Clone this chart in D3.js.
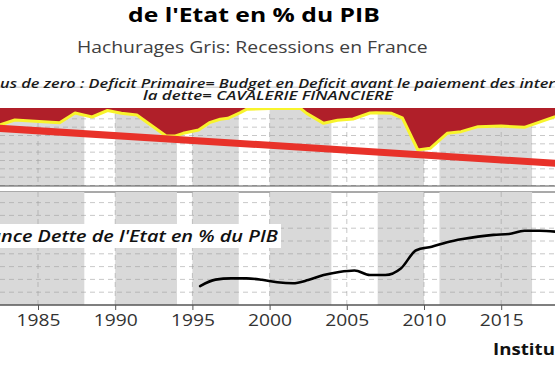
<!DOCTYPE html>
<html>
<head>
<meta charset="utf-8">
<script src="https://cdn.jsdelivr.net/npm/d3@7"></script>
<style>
  body { margin: 0; background: #fff; }
  svg { display: block; font-family: "Open Sans", sans-serif; }
</style>
</head>
<body>
<svg id="chart" width="555" height="370"></svg>
<script>
// recession periods (grey bands)
const recessionStarts = [1980, 1990, 1995, 2000, 2007, 2011];
const recessionEnds = [1988, 1994, 1998, 2004, 2010, 2017];

// primary balance of the state, % of GDP
const primaryYears = [1982.5, 1983.5, 1986.4, 1987.4, 1988.5, 1989.5, 1990.4, 1991.4, 1993.3, 1993.9,
  1994.4, 1995.4, 1996.1, 1996.8, 1997.3, 1998.1, 1998.5, 2000.0, 2002.0, 2002.4, 2003.5, 2004.4,
  2005.4, 2006.5, 2006.9, 2007.9, 2008.6, 2009.6, 2010.4, 2011.5, 2012.4, 2013.5, 2015.0, 2016.5, 2018.5];
const primaryBalance = [-1.74, -1.14, -1.46, -0.3, -0.78, 0.0, -0.34, -0.54, -3.06, -3.06,
  -2.74, -2.34, -1.46, -1.05, -0.94, -0.26, 0.14, 0.25, 0.25, -0.34, -1.54, -1.18,
  -1.02, -0.3, -0.26, -0.34, -0.9, -4.74, -4.54, -2.74, -2.54, -1.94, -1.86, -2.02, -0.74];

// trend of the primary balance
const trendYears = [1982.5, 2018.5];
const trendValues = [-2.14, -6.34];

// state debt, % of GDP
const debtYears = [1995.5, 1996.5, 1997.5, 1998.5, 1999.5, 2000.5, 2001.5, 2002.5, 2003.5, 2004.5,
  2005.5, 2006.5, 2007.5, 2008.5, 2009.5, 2010.5, 2011.5, 2012.5, 2013.5, 2014.5, 2015.5, 2016.5,
  2017.5, 2018.5];
const debtRatio = [34.8, 39.8, 40.8, 40.8, 39.7, 37.8, 37.0, 39.5, 43.4, 45.8,
  47.0, 43.4, 43.4, 48.5, 62.8, 65.5, 69.0, 71.5, 73.4, 74.8, 75.5, 78.0,
  78.0, 77.3];

const tickYears = [1985, 1990, 1995, 2000, 2005, 2010, 2015];
const topGrid = [-1, -2, -3, -4, -5, -6, -7, -8, -9];
const bottomGrid = [30, 40, 50, 60, 70, 80, 90, 100];

const svg = d3.select("#chart");
const width = 555;

const x = d3.scaleLinear().domain([1985, 2015]).range([38, 501.2]);

// panels
const topPanel = { top: 87, bottom: 186 };
const bottomPanel = { top: 192, bottom: 305 };

const yTop = d3.scaleLinear().domain([-9, 0]).range([185.5, 110.5]);
const yBottom = d3.scaleLinear().domain([20, 100]).range([305, 202.6]);

const defs = svg.append("defs");
defs.append("clipPath").attr("id", "clip-top")
  .append("rect").attr("x", 0).attr("y", topPanel.top)
  .attr("width", width).attr("height", topPanel.bottom - topPanel.top);
defs.append("clipPath").attr("id", "clip-bottom")
  .append("rect").attr("x", 0).attr("y", bottomPanel.top)
  .attr("width", width).attr("height", bottomPanel.bottom - bottomPanel.top);

const recessions = recessionStarts.map((s, i) => ({ start: s, end: recessionEnds[i] }));

// the source picture is stretched sideways, so texts are stretched to the same span
function stretchText(node, fromChar, toChar, left, right, baseline) {
  const offset = fromChar > 0 ? node.getSubStringLength(0, fromChar) : 0;
  const len = node.getSubStringLength(fromChar, toChar - fromChar);
  const k = (right - left) / len;
  node.setAttribute("transform",
    "translate(" + (left - offset * k) + "," + baseline + ") scale(" + k + ",1)");
}

function addText(str, size, weight, style, fill) {
  return svg.append("text")
    .attr("x", 0).attr("y", 0)
    .attr("font-size", size)
    .attr("font-weight", weight)
    .attr("font-style", style)
    .attr("fill", fill)
    .text(str);
}

function drawBackground(g, panel, yScale, gridValues) {
  g.selectAll(".band")
    .data(recessions)
    .enter()
    .append("rect")
    .attr("class", "band")
    .attr("x", (d) => x(d.start))
    .attr("width", (d) => x(d.end) - x(d.start))
    .attr("y", panel.top)
    .attr("height", panel.bottom - panel.top)
    .attr("fill", "#d9d9d9");

  g.selectAll(".hgrid")
    .data(gridValues)
    .enter()
    .append("line")
    .attr("class", "hgrid")
    .attr("x1", 0)
    .attr("x2", width)
    .attr("y1", (d) => yScale(d))
    .attr("y2", (d) => yScale(d))
    .attr("stroke", "#9a9a9a")
    .attr("stroke-opacity", 0.55)
    .attr("stroke-dasharray", "5,4");

  g.selectAll(".vgrid")
    .data(tickYears)
    .enter()
    .append("line")
    .attr("class", "vgrid")
    .attr("x1", (d) => x(d))
    .attr("x2", (d) => x(d))
    .attr("y1", panel.top)
    .attr("y2", panel.bottom)
    .attr("stroke", "#9a9a9a")
    .attr("stroke-opacity", 0.55)
    .attr("stroke-dasharray", "5,4");
}

// top panel: primary balance
const topG = svg.append("g").attr("clip-path", "url(#clip-top)");
drawBackground(topG, topPanel, yTop, topGrid);

const primary = primaryYears.map((yr, i) => ({ year: yr, value: primaryBalance[i] }));

const area = d3.area()
  .x((d) => x(d.year))
  .y0(yTop(0.3))
  .y1((d) => yTop(d.value));

topG.append("path")
  .datum(primary)
  .attr("d", area)
  .attr("fill", "#b01f29");

topG.append("path")
  .datum(primary)
  .attr("d", d3.line().x((d) => x(d.year)).y((d) => yTop(d.value)))
  .attr("fill", "none")
  .attr("stroke", "#f8f42c")
  .attr("stroke-width", 3)
  .attr("stroke-linejoin", "round");

const trend = trendYears.map((yr, i) => ({ year: yr, value: trendValues[i] }));
topG.append("path")
  .datum(trend)
  .attr("d", d3.line().x((d) => x(d.year)).y((d) => yTop(d.value)))
  .attr("fill", "none")
  .attr("stroke", "#e8322a")
  .attr("stroke-width", 7);

// label box of top panel
svg.append("rect")
  .attr("x", 0).attr("y", 88)
  .attr("width", width).attr("height", 20)
  .attr("fill", "#fff");

svg.append("line")
  .attr("x1", 0).attr("x2", width)
  .attr("y1", 87).attr("y2", 87)
  .attr("stroke", "#d6d6d6");

const note1 = "Au dessus de zero : Deficit Primaire= Budget en Deficit avant le paiement des interets de";
const note1Text = addText(note1, 11.8, 600, "italic", "#1a1a1a");
stretchText(note1Text.node(), note1.indexOf("us de zero"), note1.indexOf("interets") + 5, 0, 555, 88);

const note2 = "la dette= CAVALERIE FINANCIERE";
const note2Text = addText(note2, 11.8, 600, "italic", "#1a1a1a");
stretchText(note2Text.node(), 0, note2.length, 143, 393, 100);

// panel separators
svg.append("line")
  .attr("x1", 0).attr("x2", width)
  .attr("y1", topPanel.bottom).attr("y2", topPanel.bottom)
  .attr("stroke", "#555").attr("stroke-width", 1.2);
svg.append("line")
  .attr("x1", 0).attr("x2", width)
  .attr("y1", bottomPanel.top).attr("y2", bottomPanel.top)
  .attr("stroke", "#555").attr("stroke-width", 1.2);

// bottom panel: state debt
const bottomG = svg.append("g").attr("clip-path", "url(#clip-bottom)");
drawBackground(bottomG, bottomPanel, yBottom, bottomGrid);

const debt = debtYears.map((yr, i) => ({ year: yr, value: debtRatio[i] }));
bottomG.append("path")
  .datum(debt)
  .attr("d", d3.line().curve(d3.curveMonotoneX).x((d) => x(d.year)).y((d) => yBottom(d.value)))
  .attr("fill", "none")
  .attr("stroke", "#000")
  .attr("stroke-width", 2.6)
  .attr("stroke-linecap", "round");

svg.append("rect")
  .attr("x", 0).attr("y", 224)
  .attr("width", 281).attr("height", 24)
  .attr("fill", "#fff");

const debtLabel = "France Dette de l'Etat en % du PIB";
const debtLabelText = addText(debtLabel, 15.5, 600, "italic", "#111");
stretchText(debtLabelText.node(), 3, debtLabel.length, 1, 278, 241.5);

// x axis
const xAxis = d3.axisBottom(x).tickValues(tickYears).tickFormat(d3.format("d")).tickSize(5).tickPadding(4);
const axisG = svg.append("g")
  .attr("transform", "translate(0," + bottomPanel.bottom + ")")
  .call(xAxis);
axisG.select(".domain").remove();
axisG.append("line")
  .attr("x1", 0).attr("x2", width)
  .attr("stroke", "#555").attr("stroke-width", 1.5);
axisG.selectAll(".tick line").attr("stroke", "#555");
axisG.selectAll(".tick text")
  .attr("font-family", "Open Sans")
  .attr("font-size", 16.5)
  .attr("fill", "#333")
  .each(function () {
    const k = 44 / this.getComputedTextLength();
    this.setAttribute("transform", "scale(" + k + ",1)");
  });

// titles
const title = addText("de l'Etat en % du PIB", 20, 700, "normal", "#000");
stretchText(title.node(), 0, 21, 128, 380, 21.7);

const subtitle = addText("Hachurages Gris: Recessions en France", 15.5, 400, "normal", "#404040");
stretchText(subtitle.node(), 0, 37, 77, 428, 53);

const source = "Institut des Libertés";
const sourceText = addText(source, 16, 700, "normal", "#111");
stretchText(sourceText.node(), 0, 7, 493, 555, 355);
</script>
</body>
</html>
